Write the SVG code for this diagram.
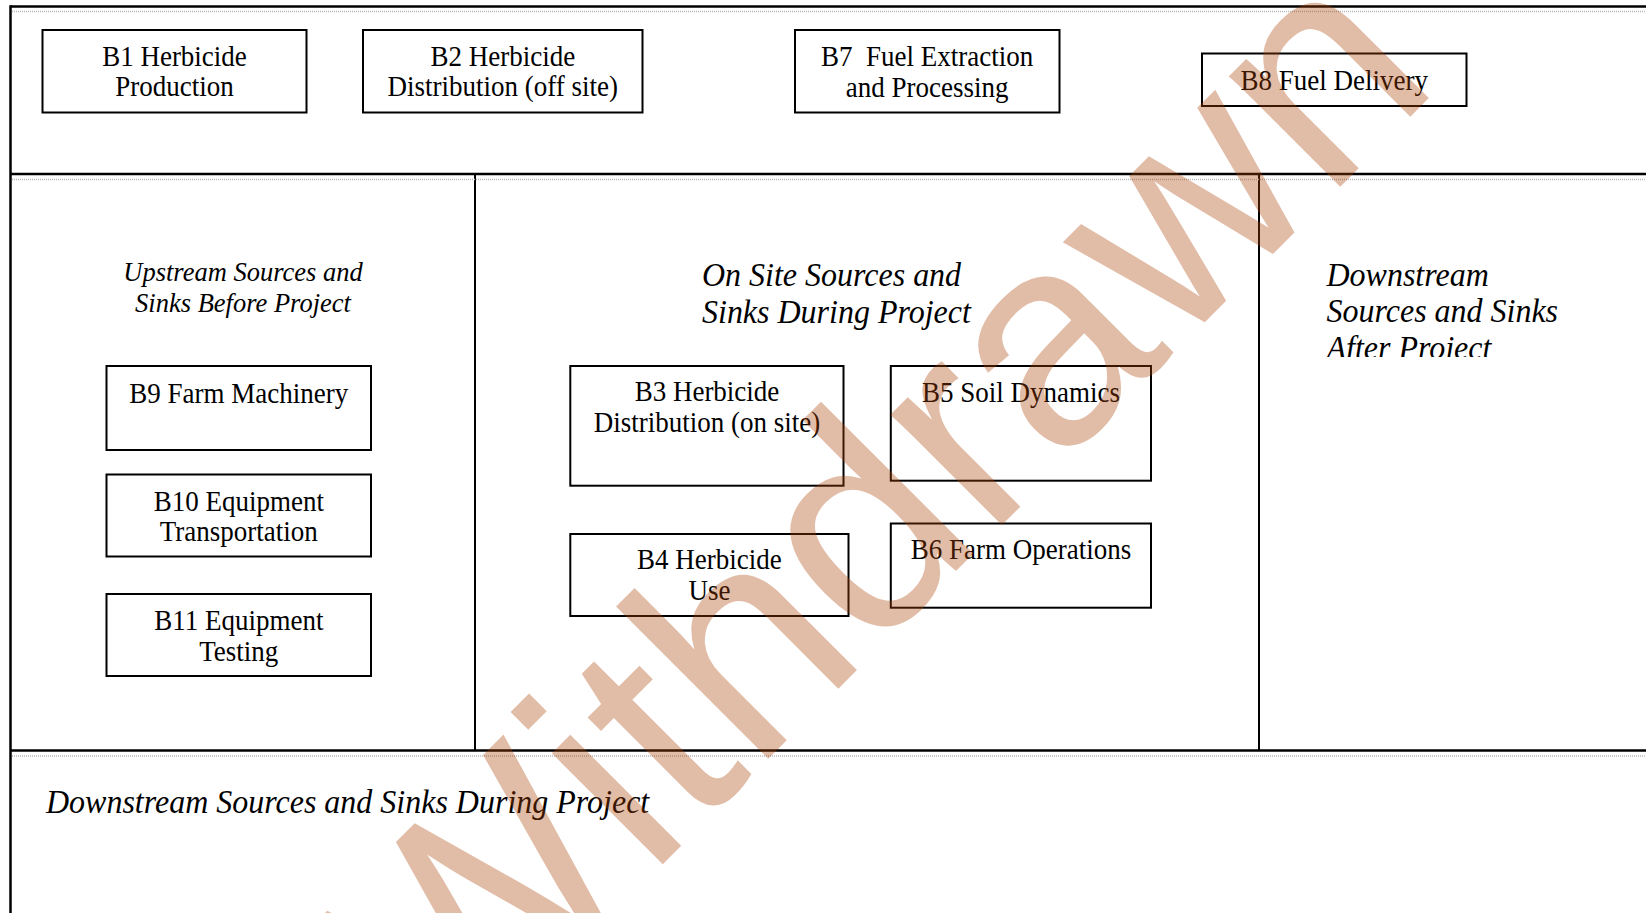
<svg xmlns="http://www.w3.org/2000/svg" width="1646" height="913" viewBox="0 0 1646 913">
  <style>
    .frame { stroke: #000; stroke-width: 2.5; fill: none; }
    .divider { stroke: #000; stroke-width: 2; fill: none; }
    .rule { stroke: #b8b8b8; stroke-width: 1.5; stroke-dasharray: 1 1; fill: none; }
    .box { fill: #fff; stroke: #000; stroke-width: 2; }
    .label, .head, .head-sm { transform-box: fill-box; transform-origin: center; transform: scaleY(1.07); }
    .label { font-family: "Liberation Serif", "Times New Roman", serif; font-size: 27px; fill: #000; text-anchor: middle; }
    .head { font-family: "Liberation Serif", "Times New Roman", serif; font-style: italic; font-size: 32px; fill: #000; }
    .head-sm { font-family: "Liberation Serif", "Times New Roman", serif; font-style: italic; font-size: 26.5px; fill: #000; text-anchor: middle; }
    .stamp { font-family: "Liberation Sans", Arial, sans-serif; font-size: 297px; fill: #aa4103; fill-opacity: 0.353; }
  </style>
  <defs>
    <clipPath id="after-clip">
      <rect x="1262" y="320" width="384" height="37"/>
    </clipPath>
  </defs>

  <rect width="1646" height="913" fill="#fff"/>

  <!-- table frame -->
  <g id="frame">
    <path class="frame" d="M10.5 6.5 H1646 M10.5 174 H1646 M10.5 750.5 H1646"/>
    <path class="frame" d="M10.5 5.3 V913"/>
    <path class="divider" d="M475 174 V750.5 M1259 174 V750.5"/>
    <path class="rule" d="M12 11.5 H1646 M12 179.5 H1646 M12 756 H1646"/>
  </g>

  <!-- section headings -->
  <g id="heading-upstream">
    <text class="head-sm" x="243" y="280">Upstream Sources and</text>
    <text class="head-sm" x="243" y="311">Sinks Before Project</text>
  </g>
  <g id="heading-onsite">
    <text class="head" x="702" y="285">On Site Sources and</text>
    <text class="head" x="702" y="322">Sinks During Project</text>
  </g>
  <g id="heading-downstream-after">
    <text class="head" x="1326.5" y="285">Downstream</text>
    <text class="head" x="1326.5" y="321.7">Sources and Sinks</text>
    <g clip-path="url(#after-clip)">
      <text class="head" x="1326.5" y="358.5">After Project</text>
    </g>
  </g>
  <g id="heading-downstream-during">
    <text class="head" x="46" y="812">Downstream Sources and Sinks During Project</text>
  </g>

  <!-- boxes -->
  <g id="B1">
    <rect class="box" x="42.5" y="30" width="264" height="82.5"/>
    <text class="label" x="174.5" y="65">B1 Herbicide</text>
    <text class="label" x="174.5" y="95.7">Production</text>
  </g>
  <g id="B2">
    <rect class="box" x="363" y="30" width="279.5" height="82.5"/>
    <text class="label" x="502.8" y="65">B2 Herbicide</text>
    <text class="label" x="502.8" y="95.7">Distribution (off site)</text>
  </g>
  <g id="B7">
    <rect class="box" x="795" y="30" width="264.5" height="82.5"/>
    <text class="label" x="927.2" y="65" xml:space="preserve">B7  Fuel Extraction</text>
    <text class="label" x="927.2" y="96">and Processing</text>
  </g>
  <g id="B8">
    <rect class="box" x="1202" y="53.5" width="264.5" height="52.5"/>
    <text class="label" x="1334.2" y="89.3">B8 Fuel Delivery</text>
  </g>
  <g id="B9">
    <rect class="box" x="106.5" y="366" width="264.5" height="84"/>
    <text class="label" x="238.8" y="402.5">B9 Farm Machinery</text>
  </g>
  <g id="B10">
    <rect class="box" x="106.5" y="474.5" width="264.5" height="82"/>
    <text class="label" x="238.8" y="510">B10 Equipment</text>
    <text class="label" x="238.8" y="540.5">Transportation</text>
  </g>
  <g id="B11">
    <rect class="box" x="106.5" y="594" width="264.5" height="82"/>
    <text class="label" x="238.8" y="629.5">B11 Equipment</text>
    <text class="label" x="238.8" y="660">Testing</text>
  </g>
  <g id="B3">
    <rect class="box" x="570.3" y="366" width="273.2" height="119.7"/>
    <text class="label" x="707" y="400.7">B3 Herbicide</text>
    <text class="label" x="707" y="431.7">Distribution (on site)</text>
  </g>
  <g id="B4">
    <rect class="box" x="570.3" y="534" width="278.2" height="82"/>
    <text class="label" x="709.4" y="568.5">B4 Herbicide</text>
    <text class="label" x="709.4" y="599">Use</text>
  </g>
  <g id="B5">
    <rect class="box" x="890.8" y="366" width="260.2" height="114.7"/>
    <text class="label" x="1021" y="401">B5 Soil Dynamics</text>
  </g>
  <g id="B6">
    <rect class="box" x="890.8" y="523.5" width="260.2" height="84.2"/>
    <text class="label" x="1021" y="558.5">B6 Farm Operations</text>
  </g>

  <!-- diagonal stamp over the page -->
  <g id="stamp">
    <text class="stamp" transform="translate(450.5 1076.5) rotate(-45)">Withdrawn</text>
  </g>
</svg>
